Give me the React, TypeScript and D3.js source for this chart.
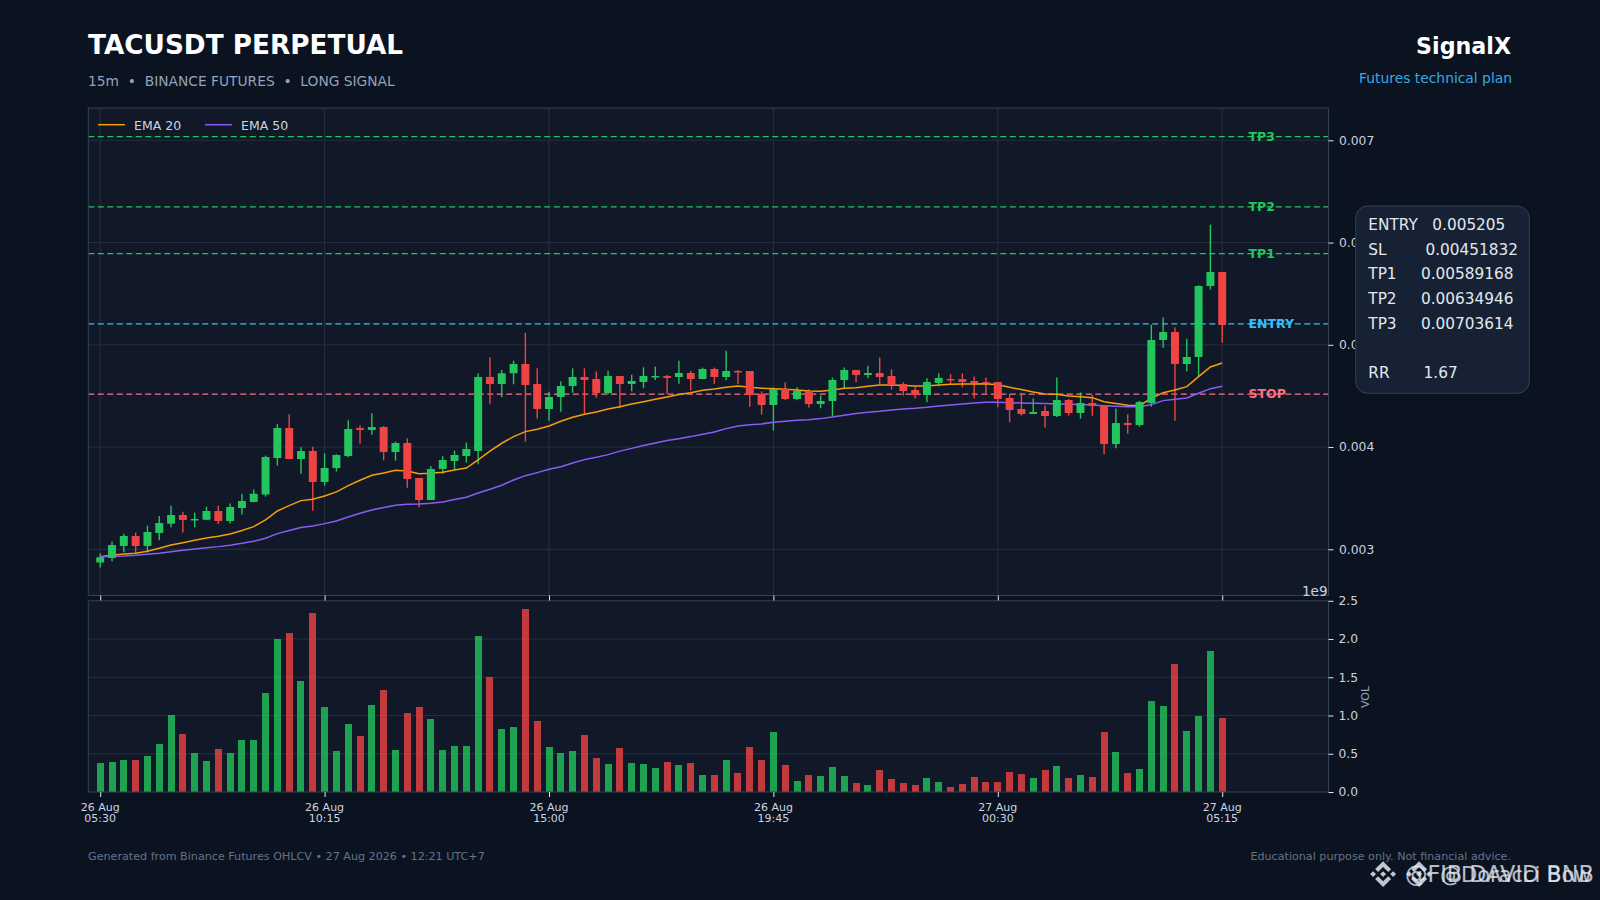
import React, { useEffect, useRef } from 'react';
import { select, scaleLinear, axisRight, axisBottom, line, format } from 'd3';

const opens = [
  0.00287, 0.002915, 0.003033, 0.00313, 0.003033, 0.00316, 0.00325, 0.003336, 0.003287, 0.00329,
  0.003375, 0.003277, 0.003404, 0.003463, 0.003535, 0.003893, 0.004187, 0.003883, 0.003962, 0.003659,
  0.003795, 0.003913, 0.004187, 0.004167, 0.004196, 0.003952, 0.00404, 0.003698, 0.003482, 0.003786,
  0.003864, 0.003913, 0.003962, 0.004685, 0.004617, 0.004721, 0.004813, 0.004617, 0.004372, 0.00449,
  0.004597, 0.004685, 0.004666, 0.004529, 0.004695, 0.004617, 0.004637, 0.004685, 0.004695, 0.004685,
  0.004725, 0.004666, 0.004764, 0.004685, 0.004744, 0.004744, 0.004519, 0.004412, 0.004568, 0.00447,
  0.004549, 0.004421, 0.004451, 0.004656, 0.004754, 0.004705, 0.004725, 0.004695, 0.004617, 0.004558,
  0.004509, 0.004627, 0.004666, 0.004666, 0.004646, 0.004637, 0.004637, 0.00448, 0.004372, 0.004324,
  0.004353, 0.004304, 0.00446, 0.004333, 0.004431, 0.004412, 0.00403, 0.004236, 0.004216, 0.004431,
  0.005047, 0.005126, 0.004813, 0.004881, 0.005575, 0.005712,
];
const closes = [
  0.002922, 0.003042, 0.00313, 0.003033, 0.00317, 0.003258, 0.003336, 0.003287, 0.003297, 0.003375,
  0.003277, 0.003414, 0.003473, 0.003544, 0.003903, 0.004187, 0.003883, 0.003962, 0.003659, 0.003795,
  0.003923, 0.004177, 0.004167, 0.004196, 0.003952, 0.00404, 0.003688, 0.003482, 0.003786, 0.003874,
  0.003923, 0.003981, 0.004685, 0.004617, 0.004721, 0.004813, 0.004607, 0.004372, 0.00449, 0.004597,
  0.004685, 0.004656, 0.004529, 0.004695, 0.004617, 0.004646, 0.004695, 0.004695, 0.004676, 0.004725,
  0.004666, 0.004764, 0.004685, 0.004744, 0.004734, 0.004509, 0.004412, 0.004568, 0.00447, 0.004549,
  0.004421, 0.004451, 0.004656, 0.004754, 0.004705, 0.004725, 0.004685, 0.004607, 0.004549, 0.004509,
  0.004637, 0.004676, 0.004656, 0.004637, 0.004627, 0.004627, 0.00447, 0.004363, 0.004324, 0.004343,
  0.004304, 0.00446, 0.004333, 0.004431, 0.004402, 0.00403, 0.004236, 0.004216, 0.004441, 0.005047,
  0.005126, 0.004813, 0.004881, 0.005575, 0.005712, 0.005194,
];
const highs = [
  0.002958, 0.003075, 0.003153, 0.003163, 0.003231, 0.003326, 0.003427, 0.003368, 0.003359, 0.003417,
  0.003427, 0.003447, 0.003544, 0.003584, 0.003916, 0.004223, 0.00432, 0.003998, 0.004004, 0.003939,
  0.003929, 0.004262, 0.004213, 0.00433, 0.004206, 0.004053, 0.004086, 0.003698, 0.003815, 0.00391,
  0.003965, 0.004043, 0.004721, 0.004878, 0.004754, 0.004845, 0.005119, 0.00477, 0.004542, 0.004643,
  0.00477, 0.00477, 0.004738, 0.004747, 0.004695, 0.004708, 0.00478, 0.004786, 0.004705, 0.004845,
  0.004744, 0.004777, 0.004777, 0.004943, 0.004754, 0.004744, 0.004545, 0.004584, 0.004633, 0.004584,
  0.004565, 0.004503, 0.004679, 0.004777, 0.004754, 0.004796, 0.004875, 0.00476, 0.004633, 0.004588,
  0.004672, 0.004721, 0.004712, 0.004721, 0.004689, 0.004679, 0.004637, 0.004519, 0.004532, 0.004474,
  0.004405, 0.004679, 0.00447, 0.004535, 0.004509, 0.004412, 0.004376, 0.00432, 0.004451, 0.005197,
  0.005269, 0.005171, 0.00506, 0.005582, 0.006175, 0.005712,
];
const lows = [
  0.002821, 0.002883, 0.002971, 0.002961, 0.002967, 0.003088, 0.003215, 0.003163, 0.003215, 0.003287,
  0.003248, 0.003251, 0.003339, 0.00346, 0.003515, 0.003818, 0.00388, 0.00374, 0.003378, 0.003623,
  0.00376, 0.0039, 0.004033, 0.004121, 0.00387, 0.003867, 0.003603, 0.003411, 0.003482, 0.00374,
  0.003776, 0.003848, 0.003831, 0.004418, 0.004487, 0.004614, 0.004053, 0.004278, 0.004258, 0.004346,
  0.004532, 0.004324, 0.004483, 0.004519, 0.004379, 0.004545, 0.004575, 0.004656, 0.004516, 0.00462,
  0.004552, 0.004663, 0.004617, 0.004653, 0.004617, 0.004395, 0.004317, 0.004161, 0.00446, 0.004457,
  0.004386, 0.004379, 0.004301, 0.004575, 0.004633, 0.004672, 0.004614, 0.004562, 0.004503, 0.004474,
  0.004438, 0.004594, 0.004617, 0.004584, 0.004474, 0.004519, 0.004389, 0.004242, 0.004307, 0.004324,
  0.00419, 0.004294, 0.004307, 0.004278, 0.004307, 0.003929, 0.003988, 0.004131, 0.0042, 0.004395,
  0.004972, 0.004258, 0.004738, 0.004695, 0.00554, 0.005021,
];
const ema20 = [
  0.002928, 0.002941, 0.002954, 0.002961, 0.00298, 0.00301, 0.003042, 0.003065, 0.003088, 0.003111,
  0.003127, 0.00315, 0.003183, 0.003222, 0.003287, 0.003375, 0.003427, 0.003476, 0.003489, 0.003522,
  0.003561, 0.003623, 0.003675, 0.003724, 0.003747, 0.003773, 0.003766, 0.00374, 0.003743, 0.003753,
  0.003776, 0.003795, 0.003875, 0.00396, 0.004037, 0.004102, 0.004151, 0.004174, 0.004206, 0.004252,
  0.004291, 0.00432, 0.004343, 0.004372, 0.004395, 0.004421, 0.004444, 0.004467, 0.00449, 0.004513,
  0.004532, 0.004555, 0.004568, 0.004584, 0.004597, 0.004584, 0.004575, 0.004571, 0.004565, 0.004558,
  0.004549, 0.004545, 0.004558, 0.004575, 0.004581, 0.004594, 0.004607, 0.004607, 0.004601, 0.004597,
  0.004597, 0.004607, 0.004614, 0.004617, 0.004617, 0.00462, 0.00461, 0.004584, 0.004562, 0.004539,
  0.004519, 0.004516, 0.0045, 0.004493, 0.004483, 0.004444, 0.004425, 0.004408, 0.004405, 0.004477,
  0.004532, 0.004558, 0.004591, 0.004689, 0.004783, 0.004822,
];
const ema50 = [
  0.002928, 0.002932, 0.002935, 0.002941, 0.002951, 0.002961, 0.002977, 0.00299, 0.003003, 0.003016,
  0.003026, 0.003039, 0.003059, 0.003078, 0.003108, 0.003153, 0.003183, 0.003212, 0.003228, 0.003251,
  0.003277, 0.003316, 0.003352, 0.003385, 0.003408, 0.00343, 0.00344, 0.003443, 0.00345, 0.003463,
  0.003486, 0.003509, 0.00355, 0.003587, 0.003626, 0.003678, 0.00372, 0.00375, 0.003782, 0.003808,
  0.003844, 0.003877, 0.0039, 0.003926, 0.00396, 0.003987, 0.004015, 0.00404, 0.004063, 0.004082,
  0.004102, 0.004125, 0.004148, 0.00418, 0.004206, 0.004219, 0.004226, 0.004242, 0.004252, 0.004262,
  0.004268, 0.004278, 0.004294, 0.004311, 0.004327, 0.00434, 0.00435, 0.004363, 0.004372, 0.004379,
  0.004389, 0.004402, 0.004412, 0.004421, 0.004431, 0.004438, 0.004438, 0.004434, 0.004431, 0.004428,
  0.004425, 0.004421, 0.004418, 0.004415, 0.004412, 0.004405, 0.004399, 0.004395, 0.004395, 0.004415,
  0.004454, 0.004467, 0.00448, 0.004526, 0.004571, 0.004594,
];
// billions
const volumes = [
  0.379, 0.392, 0.418, 0.418, 0.471, 0.627, 1.007, 0.758, 0.51, 0.405,
  0.562, 0.51, 0.68, 0.68, 1.294, 1.996, 2.078, 1.451, 2.34, 1.111,
  0.536, 0.889, 0.732, 1.137, 1.333, 0.549, 1.033, 1.111, 0.954, 0.549,
  0.601, 0.601, 2.039, 1.499, 0.824, 0.85, 2.392, 0.928, 0.588, 0.51,
  0.536, 0.745, 0.444, 0.366, 0.575, 0.379, 0.366, 0.314, 0.392, 0.353,
  0.379, 0.222, 0.222, 0.418, 0.248, 0.588, 0.418, 0.784, 0.353, 0.144,
  0.222, 0.209, 0.327, 0.209, 0.118, 0.092, 0.288, 0.17, 0.118, 0.092,
  0.183, 0.131, 0.065, 0.105, 0.196, 0.131, 0.131, 0.261, 0.235, 0.183,
  0.288, 0.34, 0.183, 0.222, 0.196, 0.784, 0.523, 0.248, 0.301, 1.19,
  1.124, 1.673, 0.797, 0.989, 1.843, 0.967,
];

const xTickIdx = [0, 19, 38, 57, 76, 95];
const xTickDates = ['26 Aug', '26 Aug', '26 Aug', '26 Aug', '27 Aug', '27 Aug'];
const xTickTimes = ['05:30', '10:15', '15:00', '19:45', '00:30', '05:15'];
const priceTicks = [0.003, 0.004, 0.005, 0.006, 0.007];
const volTicks = [0, 0.5, 1, 1.5, 2, 2.5];

const levelNames = ['TP3', 'TP2', 'TP1', 'ENTRY', 'STOP'];
const levelValues = [0.00703614, 0.00634946, 0.00589168, 0.005205, 0.00451832];
const levelColors = ['#22c55e', '#22c55e', '#22c55e', '#38bdf8', '#fb7185'];

const infoLines = [
  'ENTRY   0.005205',
  'SL        0.00451832',
  'TP1     0.00589168',
  'TP2     0.00634946',
  'TP3     0.00703614',
  '',
  'RR       1.67',
];

const BG = '#0b1220';
const PANEL = '#111827';
const GRID = '#263040';
const BORDER = '#334155';
const TICK = '#cbd5e1';
const UP = '#22c55e';
const DOWN = '#ef4444';
const FONT = '"DejaVu Sans", sans-serif';

const LOGO =
  'M38.73 53.2L63 28.94l24.28 24.28 14.12-14.12L63 .66 24.6 39.06z M.66 63l14.12-14.12L28.9 63 14.78 77.12z M38.73 72.8L63 97.06l24.28-24.27 14.13 14.11L63 125.34 24.6 86.94l-.02-.02z M97.1 63l14.12-14.12L125.34 63l-14.12 14.12z M77.32 63L63 48.68 52.4 59.27l-1.21 1.22-2.51 2.5L63 77.32 77.32 63z';

const left = 88.3;
const right = 1328.5;
const mainTop = 108;
const mainBottom = 595.5;
const volTop = 600.8;
const volBottom = 792;

function App() {
  const svgRef = useRef<SVGSVGElement | null>(null);

  useEffect(() => {
    const svg = select(svgRef.current);
    svg.selectAll('*').remove();

    const x = scaleLinear().domain([-1.008, 104.0]).range([left, right]);
    const y = scaleLinear().domain([0.002548, 0.007316]).range([mainBottom, mainTop]);
    const v = scaleLinear().domain([0, 2.5]).range([volBottom, volTop]);
    const idx = closes.map((_, i) => i);
    const bodyW = 8;
    const volW = 7;

    svg.append('rect').attr('width', 1600).attr('height', 900).attr('fill', BG);

    // panels
    svg.append('rect').attr('x', left).attr('y', mainTop).attr('width', right - left).attr('height', mainBottom - mainTop).attr('fill', PANEL);
    svg.append('rect').attr('x', left).attr('y', volTop).attr('width', right - left).attr('height', volBottom - volTop).attr('fill', PANEL);

    // grid
    const grid = svg.append('g').attr('stroke', GRID).attr('stroke-width', 1);
    priceTicks.forEach(t => {
      grid.append('line').attr('x1', left).attr('x2', right).attr('y1', y(t)).attr('y2', y(t));
    });
    xTickIdx.forEach(t => {
      grid.append('line').attr('x1', x(t)).attr('x2', x(t)).attr('y1', mainTop).attr('y2', mainBottom);
    });
    volTicks.slice(1, -1).forEach(t => {
      grid.append('line').attr('x1', left).attr('x2', right).attr('y1', v(t)).attr('y2', v(t));
    });

    // levels
    levelNames.forEach((name, i) => {
      svg.append('line')
        .attr('x1', left).attr('x2', right)
        .attr('y1', y(levelValues[i])).attr('y2', y(levelValues[i]))
        .attr('stroke', levelColors[i]).attr('stroke-width', 1.3)
        .attr('stroke-dasharray', '6 3.5');
    });

    // wicks, then emas, then bodies on top
    svg.append('g').selectAll('line').data(idx).enter().append('line')
      .attr('x1', d => x(d)).attr('x2', d => x(d))
      .attr('y1', d => y(highs[d])).attr('y2', d => y(lows[d]))
      .attr('stroke', d => (closes[d] >= opens[d] ? UP : DOWN))
      .attr('stroke-width', 1.4);

    const emaPath = line<number>().x((_, i) => x(i)).y(d => y(d));
    svg.append('path').attr('d', emaPath(ema20)).attr('fill', 'none').attr('stroke', '#f59e0b').attr('stroke-width', 1.5);
    svg.append('path').attr('d', emaPath(ema50)).attr('fill', 'none').attr('stroke', '#8b5cf6').attr('stroke-width', 1.5);

    svg.append('g').selectAll('rect').data(idx).enter().append('rect')
      .attr('x', d => x(d) - bodyW / 2)
      .attr('width', bodyW)
      .attr('y', d => y(Math.max(opens[d], closes[d])))
      .attr('height', d => Math.max(1.5, Math.abs(y(opens[d]) - y(closes[d]))))
      .attr('fill', d => (closes[d] >= opens[d] ? UP : DOWN))
      .attr('rx', 0.6);

    // volume
    svg.append('g').selectAll('rect').data(idx).enter().append('rect')
      .attr('x', d => x(d) - volW / 2)
      .attr('width', volW)
      .attr('y', d => v(volumes[d]))
      .attr('height', d => volBottom - v(volumes[d]))
      .attr('fill', d => (closes[d] >= opens[d] ? UP : DOWN))
      .attr('opacity', 0.8)
      .attr('shape-rendering', 'crispEdges');

    // level labels
    levelNames.forEach((name, i) => {
      svg.append('text')
        .attr('x', 1248.5).attr('y', y(levelValues[i]) + 4)
        .attr('fill', levelColors[i])
        .attr('font-family', FONT).attr('font-weight', 700).attr('font-size', 12.5)
        .text(name);
    });

    // panel borders
    [[mainTop, mainBottom], [volTop, volBottom]].forEach(([a, b]) => {
      svg.append('rect').attr('x', left).attr('y', a).attr('width', right - left).attr('height', b - a)
        .attr('fill', 'none').attr('stroke', BORDER).attr('stroke-width', 1);
    });

    // axes
    const styleAxis = (g: any) => {
      g.select('.domain').remove();
      g.selectAll('.tick line').attr('stroke', '#e2e8f0').attr('stroke-width', 1);
      g.selectAll('.tick text').attr('fill', TICK).attr('font-family', FONT).attr('font-size', 12.3);
    };
    svg.append('g').attr('transform', `translate(${right},0)`)
      .call(axisRight(y).tickValues(priceTicks).tickFormat(d => format('.3f')(d as number)).tickSize(5).tickPadding(5.5) as any)
      .call(styleAxis);
    svg.append('g').attr('transform', `translate(${right},0)`)
      .call(axisRight(v).tickValues(volTicks).tickFormat(d => format('.1f')(d as number)).tickSize(5).tickPadding(5) as any)
      .call(styleAxis);
    svg.append('g').attr('transform', `translate(0,${mainBottom})`)
      .call(axisBottom(x).tickValues(xTickIdx).tickFormat(() => '').tickSize(5) as any)
      .call(styleAxis);
    const xAxis = svg.append('g').attr('transform', `translate(0,${volBottom})`)
      .call(axisBottom(x).tickValues(xTickIdx).tickFormat(() => '').tickSize(5) as any)
      .call(styleAxis);
    xTickIdx.forEach((t, i) => {
      const label = xAxis.append('text').attr('text-anchor', 'middle').attr('fill', TICK)
        .attr('font-family', FONT).attr('font-size', 11);
      label.append('tspan').attr('x', x(t)).attr('y', 19).text(xTickDates[i]);
      label.append('tspan').attr('x', x(t)).attr('y', 30).text(xTickTimes[i]);
    });

    svg.append('text').attr('x', right - 1).attr('y', 596).attr('text-anchor', 'end')
      .attr('fill', TICK).attr('font-family', FONT).attr('font-size', 13.5).text('1e9');
    svg.append('text').attr('transform', 'translate(1369,697) rotate(-90)').attr('text-anchor', 'middle')
      .attr('fill', '#94a3b8').attr('font-family', FONT).attr('font-size', 11).text('VOL');

    // legend
    const legend = [['EMA 20', '#f59e0b', 98], ['EMA 50', '#8b5cf6', 205]] as const;
    legend.forEach(([name, color, lx]) => {
      svg.append('line').attr('x1', lx).attr('x2', lx + 27).attr('y1', 124.7).attr('y2', 124.7)
        .attr('stroke', color).attr('stroke-width', 1.5);
      svg.append('text').attr('x', lx + 36).attr('y', 129.5).attr('fill', TICK)
        .attr('font-family', FONT).attr('font-size', 12.5).text(name);
    });

    // header
    svg.append('text').attr('x', 88).attr('y', 54).attr('fill', '#fff').attr('font-family', FONT)
      .attr('font-weight', 700).attr('font-size', 26.3).text('TACUSDT PERPETUAL');
    svg.append('text').attr('x', 88).attr('y', 86).attr('fill', '#94a3b8').attr('font-family', FONT)
      .attr('font-size', 13.8).style('white-space', 'pre').text('15m  •  BINANCE FUTURES  •  LONG SIGNAL');
    svg.append('text').attr('x', 1511).attr('y', 54).attr('text-anchor', 'end').attr('fill', '#fff')
      .attr('font-family', FONT).attr('font-weight', 700).attr('font-size', 22.2).text('SignalX');
    svg.append('text').attr('x', 1512).attr('y', 83).attr('text-anchor', 'end').attr('fill', '#38bdf8').attr('opacity', 0.9)
      .attr('font-family', FONT).attr('font-size', 13.85).text('Futures technical plan');

    // info box
    svg.append('rect').attr('x', 1355.7).attr('y', 206).attr('width', 173.6).attr('height', 187.3).attr('rx', 12)
      .attr('fill', '#162233').attr('stroke', BORDER).attr('stroke-width', 1);
    infoLines.forEach((t, i) => {
      svg.append('text').attr('x', 1368.3).attr('y', 230 + i * 24.7).attr('fill', '#e2e8f0')
        .attr('font-family', FONT).attr('font-size', 15.3).style('white-space', 'pre').text(t);
    });

    // footer
    svg.append('text').attr('x', 88).attr('y', 860).attr('fill', '#64748b').attr('font-family', FONT)
      .attr('font-size', 11.15).text('Generated from Binance Futures OHLCV • 27 Aug 2026 • 12:21 UTC+7');
    svg.append('text').attr('x', 1511).attr('y', 860).attr('text-anchor', 'end').attr('fill', '#64748b')
      .attr('font-family', FONT).attr('font-size', 11.15).text('Educational purpose only. Not financial advice.');

    // watermarks
    const marks = [['@FIB DAVID BNB', 1370, 1405, 22.4], ['@Doracci Bow', 1406, 1440, 21]] as const;
    marks.forEach(([name, lx, tx, size]) => {
      svg.append('path').attr('d', LOGO).attr('transform', `translate(${lx},861) scale(0.208)`)
        .attr('fill', '#e2e8f0').attr('opacity', 0.85);
      svg.append('text').attr('x', tx).attr('y', 882).attr('fill', '#e2e8f0').attr('opacity', 0.8)
        .attr('font-family', FONT).attr('font-size', size).text(name);
    });
  }, []);

  return (
    <svg
      ref={svgRef}
      width={1600}
      height={900}
      style={{ position: 'absolute', left: 0, top: 0, display: 'block' }}
    />
  );
}

export default App;
